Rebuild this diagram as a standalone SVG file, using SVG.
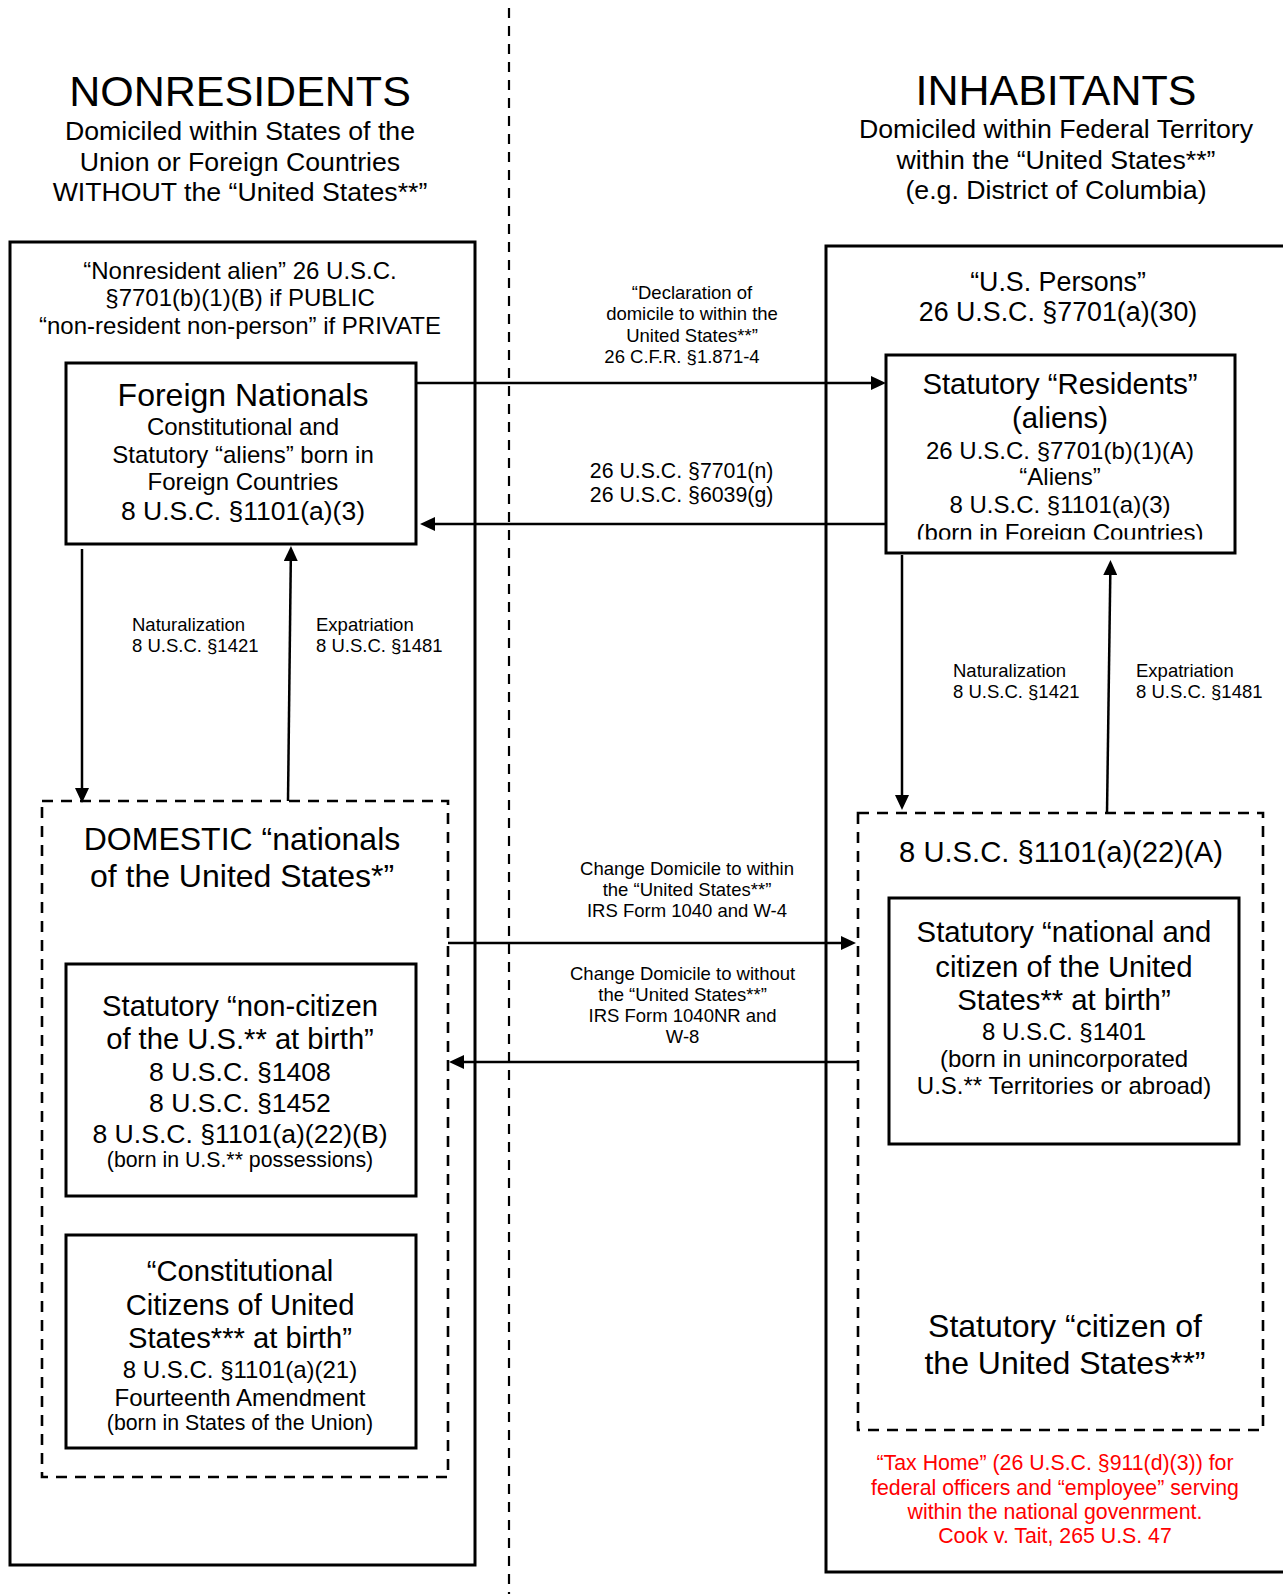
<svg xmlns="http://www.w3.org/2000/svg" width="1283" height="1594" viewBox="0 0 1283 1594">
<defs>
<style>
.t{font-family:"Liberation Sans",Arial,sans-serif;text-anchor:middle;fill:#000}
.s{text-anchor:start}
.box{fill:none;stroke:#000;stroke-width:3}
.dbox{fill:none;stroke:#000;stroke-width:2.6;stroke-dasharray:11 8}
.sep{fill:none;stroke:#000;stroke-width:2.2;stroke-dasharray:10 8}
.conn{fill:none;stroke:#000;stroke-width:2.5}
.red{fill:#ff0000}
</style>
<marker id="arr" viewBox="0 0 15 14" markerWidth="15" markerHeight="14" refX="1" refY="7" orient="auto" markerUnits="userSpaceOnUse">
<path d="M0,0 L15,7 L0,14 Z" fill="#000"/>
</marker>
<clipPath id="clipRes"><rect x="880" y="500" width="360" height="39.5"/></clipPath>
</defs>
<rect width="1283" height="1594" fill="#fff"/>

<g id="separator">
<line class="sep" x1="509" y1="8" x2="509" y2="1594"/>
</g>

<g id="nonresidents-header">
<text class="t" x="240" y="106" font-size="43">NONRESIDENTS</text>
<text class="t" font-size="26.7"><tspan x="240" y="140">Domiciled within States of the</tspan><tspan x="240" y="170.5">Union or Foreign Countries</tspan><tspan x="240" y="201">WITHOUT the “United States**”</tspan></text>
</g>

<g id="inhabitants-header">
<text class="t" x="1056" y="105" font-size="43">INHABITANTS</text>
<text class="t" font-size="26.7"><tspan x="1056" y="138">Domiciled within Federal Territory</tspan><tspan x="1056" y="168.5">within the “United States**”</tspan><tspan x="1056" y="199">(e.g. District of Columbia)</tspan></text>
</g>

<g id="nonresident-alien">
<rect class="box" x="10" y="242" width="465" height="1323"/>
<text class="t" font-size="24"><tspan x="240" y="278.5">“Nonresident alien” 26 U.S.C.</tspan><tspan x="240" y="306">§7701(b)(1)(B) if PUBLIC</tspan><tspan x="240" y="334">“non-resident non-person” if PRIVATE</tspan></text>
</g>

<g id="us-persons">
<rect class="box" x="826" y="246" width="470" height="1326"/>
<text class="t" font-size="26.8"><tspan x="1058" y="290.5">“U.S. Persons”</tspan><tspan x="1058" y="321">26 U.S.C. §7701(a)(30)</tspan></text>
</g>

<g id="foreign-nationals">
<rect class="box" x="66" y="363" width="350" height="181" fill="#fff"/>
<text class="t" x="243" y="406" font-size="32">Foreign Nationals</text>
<text class="t" font-size="24"><tspan x="243" y="435">Constitutional and</tspan><tspan x="243" y="462.5">Statutory “aliens” born in</tspan><tspan x="243" y="490">Foreign Countries</tspan></text>
<text class="t" x="243" y="519.5" font-size="26.5">8 U.S.C. §1101(a)(3)</text>
</g>

<g id="statutory-residents">
<rect class="box" x="886" y="355" width="349" height="198"/>
<text class="t" font-size="29.3"><tspan x="1060" y="394">Statutory “Residents”</tspan><tspan x="1060" y="428">(aliens)</tspan></text>
<text class="t" font-size="24"><tspan x="1060" y="458.5">26 U.S.C. §7701(b)(1)(A)</tspan><tspan x="1060" y="485">“Aliens”</tspan><tspan x="1060" y="512.5">8 U.S.C. §1101(a)(3)</tspan></text>
<text class="t" x="1060" y="540.5" font-size="24" clip-path="url(#clipRes)">(born in Foreign Countries)</text>
</g>

<g id="domestic-nationals">
<rect class="dbox" x="42" y="801" width="406" height="676"/>
<text class="t" font-size="32"><tspan x="242" y="850">DOMESTIC “nationals</tspan><tspan x="242" y="887">of the United States*”</tspan></text>
</g>

<g id="non-citizen">
<rect class="box" x="66" y="964" width="350" height="232"/>
<text class="t" font-size="29.2"><tspan x="240" y="1016">Statutory “non-citizen</tspan><tspan x="240" y="1049">of the U.S.** at birth”</tspan></text>
<text class="t" font-size="26.6"><tspan x="240" y="1080.5">8 U.S.C. §1408</tspan><tspan x="240" y="1111.5">8 U.S.C. §1452</tspan><tspan x="240" y="1143">8 U.S.C. §1101(a)(22)(B)</tspan></text>
<text class="t" x="240" y="1167" font-size="21.3">(born in U.S.** possessions)</text>
</g>

<g id="constitutional-citizens">
<rect class="box" x="66" y="1235" width="350" height="213"/>
<text class="t" font-size="29.2"><tspan x="240" y="1281">“Constitutional</tspan><tspan x="240" y="1314.5">Citizens of United</tspan><tspan x="240" y="1348">States*** at birth”</tspan></text>
<text class="t" font-size="24"><tspan x="240" y="1377.5">8 U.S.C. §1101(a)(21)</tspan><tspan x="240" y="1406">Fourteenth Amendment</tspan></text>
<text class="t" x="240" y="1430" font-size="21.3">(born in States of the Union)</text>
</g>

<g id="statutory-citizen">
<rect class="dbox" x="858" y="813" width="405" height="617"/>
<text class="t" x="1061" y="862" font-size="29.2">8 U.S.C. §1101(a)(22)(A)</text>
<text class="t" font-size="32"><tspan x="1065" y="1337">Statutory “citizen of</tspan><tspan x="1065" y="1374">the United States**”</tspan></text>
</g>

<g id="national-and-citizen">
<rect class="box" x="889" y="898" width="350" height="246"/>
<text class="t" font-size="29.3"><tspan x="1064" y="941.5">Statutory “national and</tspan><tspan x="1064" y="976.5">citizen of the United</tspan><tspan x="1064" y="1009.5">States** at birth”</tspan></text>
<text class="t" font-size="24"><tspan x="1064" y="1039.5">8 U.S.C. §1401</tspan><tspan x="1064" y="1067">(born in unincorporated</tspan><tspan x="1064" y="1094">U.S.** Territories or abroad)</tspan></text>
</g>

<g id="tax-home-note">
<text class="t red" font-size="21.3"><tspan x="1055" y="1470">“Tax Home” (26 U.S.C. §911(d)(3)) for</tspan><tspan x="1055" y="1494.5">federal officers and “employee” serving</tspan><tspan x="1055" y="1519">within the national govenrment.</tspan><tspan x="1055" y="1543">Cook v. Tait, 265 U.S. 47</tspan></text>
</g>

<g id="connectors">
<path class="conn" d="M416,383 H872" marker-end="url(#arr)"/>
<path class="conn" d="M886,524 H434" marker-end="url(#arr)"/>
<path class="conn" d="M82,549 V789" marker-end="url(#arr)"/>
<path class="conn" d="M288,801 L290.8,560" marker-end="url(#arr)"/>
<path class="conn" d="M902,555 V796" marker-end="url(#arr)"/>
<path class="conn" d="M1107,813 L1110.3,574" marker-end="url(#arr)"/>
<path class="conn" d="M448,943 H842" marker-end="url(#arr)"/>
<path class="conn" d="M858,1062 H463" marker-end="url(#arr)"/>
<g id="connector-labels">
<text class="t" font-size="18.5"><tspan x="692" y="298.5">“Declaration of</tspan><tspan x="692" y="320">domicile to within the</tspan><tspan x="692" y="341.5">United States**”</tspan><tspan x="682" y="363">26 C.F.R. §1.871-4</tspan></text>
<text class="t" font-size="21.3"><tspan x="681.6" y="477.5">26 U.S.C. §7701(n)</tspan><tspan x="681.6" y="502">26 U.S.C. §6039(g)</tspan></text>
<text class="t s" font-size="18.5"><tspan x="132" y="630.5">Naturalization</tspan><tspan x="132" y="651.5">8 U.S.C. §1421</tspan></text>
<text class="t s" font-size="18.5"><tspan x="316" y="630.5">Expatriation</tspan><tspan x="316" y="651.5">8 U.S.C. §1481</tspan></text>
<text class="t s" font-size="18.5"><tspan x="953" y="676.5">Naturalization</tspan><tspan x="953" y="697.5">8 U.S.C. §1421</tspan></text>
<text class="t s" font-size="18.5"><tspan x="1136" y="676.5">Expatriation</tspan><tspan x="1136" y="697.5">8 U.S.C. §1481</tspan></text>
<text class="t" font-size="18.5"><tspan x="687" y="874.5">Change Domicile to within</tspan><tspan x="687" y="895.5">the “United States**”</tspan><tspan x="687" y="916.5">IRS Form 1040 and W-4</tspan></text>
<text class="t" font-size="18.5"><tspan x="682.6" y="979.5">Change Domicile to without</tspan><tspan x="682.6" y="1001">the “United States**”</tspan><tspan x="682.6" y="1022">IRS Form 1040NR and</tspan><tspan x="682.6" y="1043">W-8</tspan></text>
</g>
</g>
</svg>
